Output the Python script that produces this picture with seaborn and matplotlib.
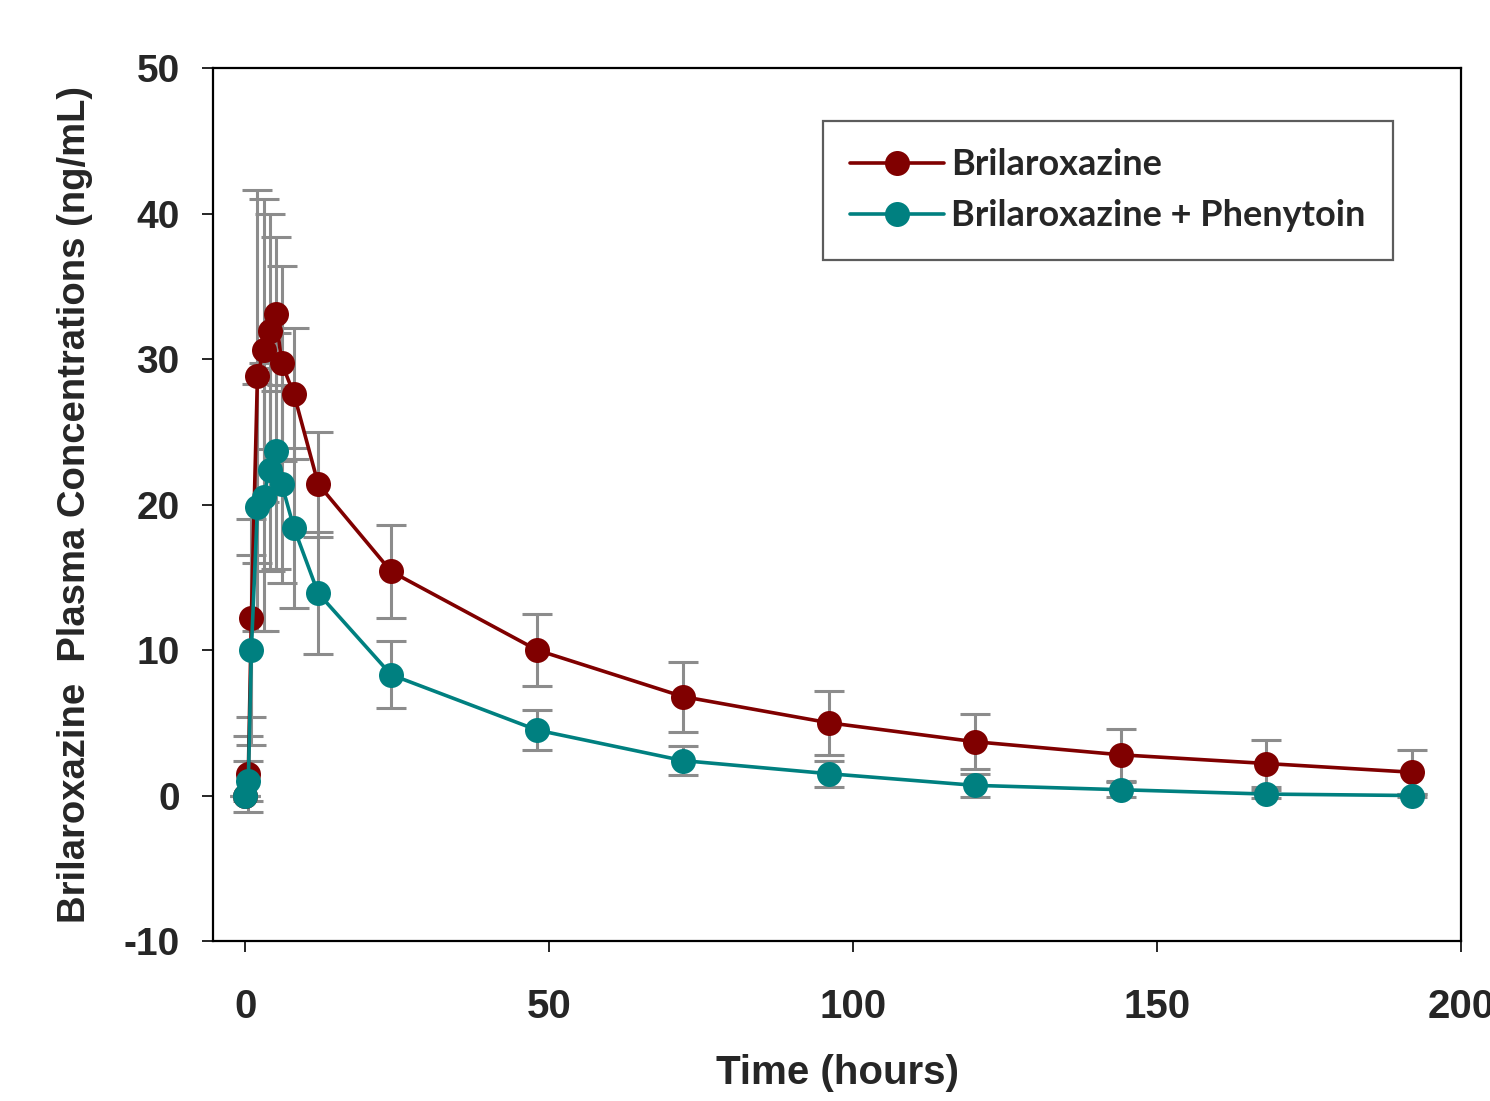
import numpy as np
import pandas as pd
import seaborn as sns
import matplotlib.pyplot as plt
from matplotlib import font_manager

# sampling times (hours)
time_h = [0, 0.5, 1, 2, 3, 4, 5, 6, 8, 12, 24, 48, 72, 96, 120, 144, 168, 192]

# mean plasma concentrations (ng/mL)
brilar_mean = [0.0, 1.5, 12.2, 28.8, 30.6, 31.9, 33.1, 29.7, 27.6, 21.4, 15.4, 10.0,
               6.8, 5.0, 3.7, 2.8, 2.2, 1.6]
brilar_sd = [0.0, 2.6, 6.8, 12.8, 10.4, 8.1, 5.3, 6.7, 4.5, 3.6, 3.2, 2.5,
             2.4, 2.2, 1.9, 1.8, 1.6, 1.5]

pheny_mean = [0.0, 1.0, 10.0, 19.8, 20.5, 22.4, 23.7, 21.4, 18.4, 13.9, 8.3, 4.5,
              2.4, 1.5, 0.7, 0.4, 0.1, 0.0]
pheny_sd = [0.0, 1.4, 6.5, 8.5, 9.2, 7.0, 8.1, 6.8, 5.5, 4.2, 2.3, 1.4,
            1.0, 0.9, 0.8, 0.5, 0.3, 0.1]

labels = ["Brilaroxazine", "Brilaroxazine + Phenytoin"]
colors = ["#800000", "#008080"]


def pick_font(name, fallback="Liberation Sans"):
    names = {f.name for f in font_manager.fontManager.ttflist}
    return name if name in names else fallback


narrow = pick_font("Liberation Sans Narrow")

df = pd.DataFrame({
    "time": time_h * 2,
    "conc": brilar_mean + pheny_mean,
    "sd": brilar_sd + pheny_sd,
    "group": [labels[0]] * len(time_h) + [labels[1]] * len(time_h),
})

sns.set_style("ticks")
plt.rcParams["font.family"] = ["Liberation Sans", "DejaVu Sans"]
plt.rcParams["axes.unicode_minus"] = False

fig = plt.figure(figsize=(14.9, 11.01), dpi=100)
ax = fig.add_axes([0.143, 0.1453, 0.8375, 0.7929])

# error bars under the markers
for lab, col in zip(labels, colors):
    sub = df[df["group"] == lab]
    ax.errorbar(sub["time"], sub["conc"], yerr=sub["sd"], fmt="none",
                ecolor="#8c8c8c", elinewidth=2.2, capsize=11, capthick=2.2, zorder=2)

sns.lineplot(data=df, x="time", y="conc", hue="group", palette=colors,
             marker="o", markersize=18, markeredgewidth=0, linewidth=2.6,
             ax=ax, zorder=3, legend=False)

ax.set_xlim(-5.3, 200)
ax.set_ylim(-10, 50)
ax.set_xticks([0, 50, 100, 150, 200])
ax.set_yticks(range(-10, 51, 10))

for side in ["left", "right", "top", "bottom"]:
    ax.spines[side].set_visible(True)
    ax.spines[side].set_color("black")
    ax.spines[side].set_linewidth(1.6)

ax.tick_params(axis="y", direction="out", length=8, width=1.4, pad=16, labelsize=28)
ax.tick_params(axis="x", direction="out", length=8, width=1.4, pad=26, labelsize=29)
for t in ax.get_yticklabels():
    t.set_fontweight("bold")
for t in ax.get_xticklabels():
    t.set_fontweight("bold")
    t.set_family(narrow)

ax.set_xlabel("Time (hours)", fontsize=29, fontweight="bold", family=narrow, labelpad=20)
ax.set_ylabel("Brilaroxazine  Plasma Concentrations (ng/mL)", fontsize=27.5,
              fontweight="bold", family=narrow, labelpad=22)

handles = [plt.Line2D([], [], color=c, marker="o", markersize=18, markeredgewidth=0,
                      linewidth=2.6) for c in colors]
leg = ax.legend(handles, labels, loc="upper right", bbox_to_anchor=(0.9455, 0.939),
                borderaxespad=0, fancybox=False, frameon=True, edgecolor="#333333",
                borderpad=0.75, handlelength=2.6, handletextpad=0.2, labelspacing=0.5,
                prop={"family": "Lato", "weight": "bold", "size": 26})
leg.get_frame().set_linewidth(1.6)

fig.savefig("out.png", dpi=100, facecolor="white")
